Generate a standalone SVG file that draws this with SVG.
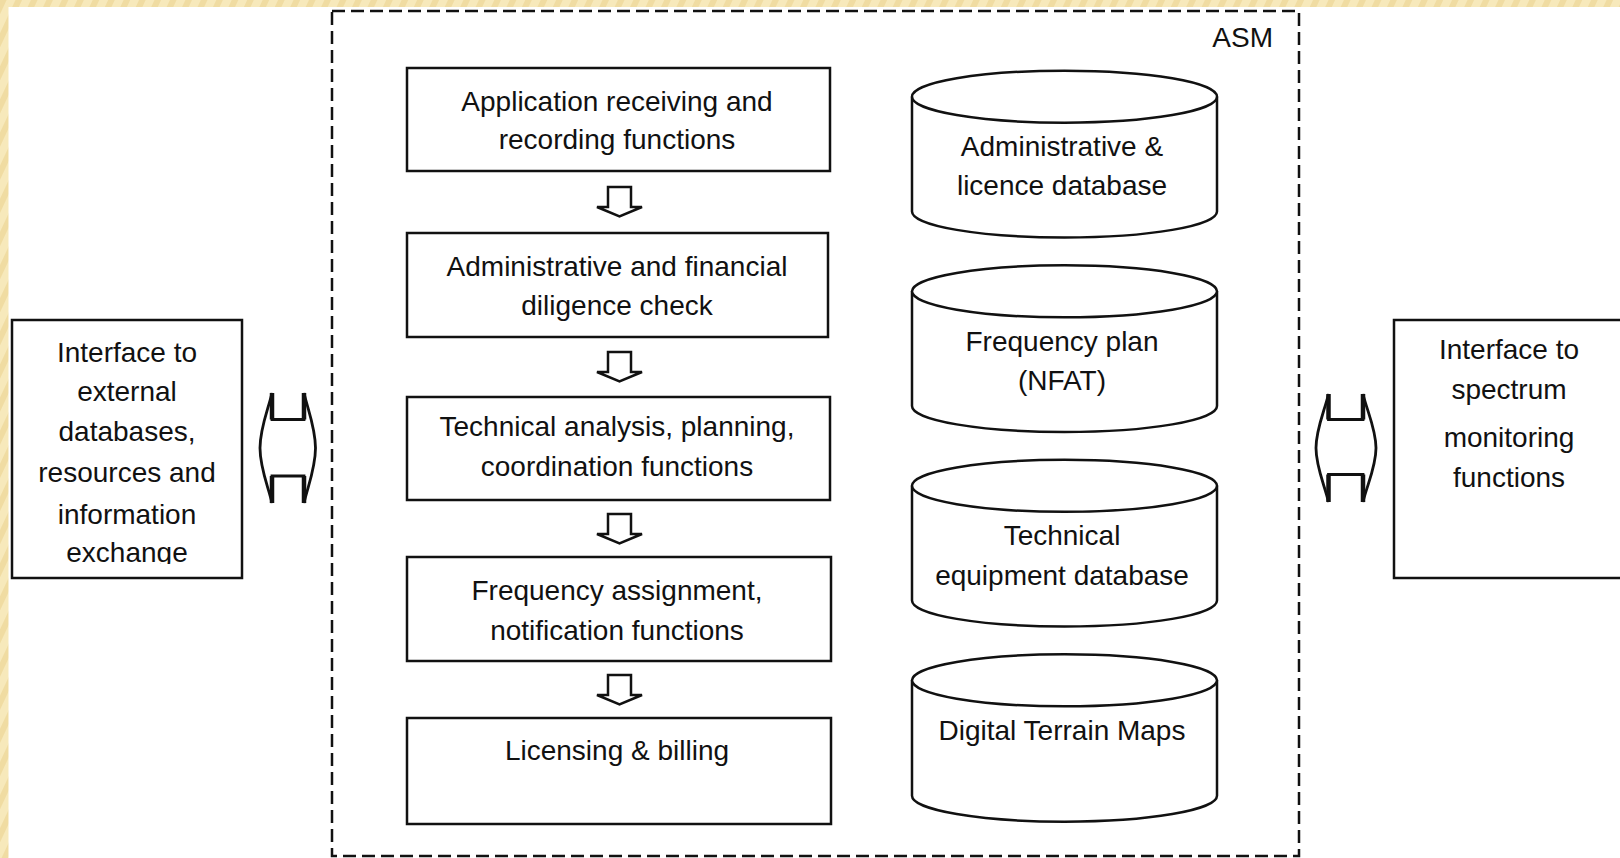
<svg xmlns="http://www.w3.org/2000/svg" width="1620" height="858" viewBox="0 0 1620 858">
<style>
.box{fill:#fff;stroke:#111;stroke-width:2.5}
.cyl{fill:#fff;stroke:#111;stroke-width:2.5}
.t{font-family:"Liberation Sans",Arial,sans-serif;font-size:28px;fill:#111;text-anchor:middle}
.dbl{fill:#fff;stroke:#111;stroke-width:2.8;stroke-linejoin:miter}
.bar{stroke:#111;stroke-width:4.5}
.dn{fill:#fff;stroke:#111;stroke-width:2.5;stroke-linejoin:miter}
</style>
<defs>
<pattern id="stripes" width="14" height="14" patternUnits="userSpaceOnUse" patternTransform="rotate(25)">
<rect width="14" height="14" fill="#f7e9bb"/>
<rect width="6" height="14" fill="#f0dca2"/>
</pattern>
<clipPath id="clipL"><rect x="12" y="320" width="230" height="244"/></clipPath>
</defs>
<rect width="1620" height="858" fill="url(#stripes)"/>
<rect x="8.5" y="7" width="1612" height="851" fill="#fff"/>

<g id="asm">
<rect x="332" y="11" width="967" height="845" fill="none" stroke="#111" stroke-width="2.5" stroke-dasharray="13 6"/>
<text class="t" x="1273" y="46.5" style="text-anchor:end">ASM</text>
</g>

<g id="ext-interface">
<rect class="box" x="12" y="320" width="230" height="258"/>
<g clip-path="url(#clipL)">
<text class="t" x="127" y="362">Interface to</text>
<text class="t" x="127" y="400.5">external</text>
<text class="t" x="127" y="440.5">databases,</text>
<text class="t" x="127" y="482">resources and</text>
<text class="t" x="127" y="524">information</text>
<text class="t" x="127" y="562">exchange</text>
</g>
</g>

<g id="mon-interface">
<rect class="box" x="1394" y="320" width="240" height="258"/>
<text class="t" x="1509" y="359">Interface to</text>
<text class="t" x="1509" y="399">spectrum</text>
<text class="t" x="1509" y="447">monitoring</text>
<text class="t" x="1509" y="487">functions</text>
</g>

<g id="p1">
<rect class="box" x="407" y="68" width="423" height="103"/>
<text class="t" x="617" y="110.5">Application receiving and</text>
<text class="t" x="617" y="149">recording functions</text>
</g>
<g id="p2">
<rect class="box" x="407" y="233" width="421" height="104"/>
<text class="t" x="617" y="275.5">Administrative and financial</text>
<text class="t" x="617" y="315">diligence check</text>
</g>
<g id="p3">
<rect class="box" x="407" y="397" width="423" height="103"/>
<text class="t" x="617" y="435.5">Technical analysis, planning,</text>
<text class="t" x="617" y="475.5">coordination functions</text>
</g>
<g id="p4">
<rect class="box" x="407" y="557" width="424" height="104"/>
<text class="t" x="617" y="600">Frequency assignment,</text>
<text class="t" x="617" y="639.5">notification functions</text>
</g>
<g id="p5">
<rect class="box" x="407" y="718" width="424" height="106"/>
<text class="t" x="617" y="759.5">Licensing &amp; billing</text>
</g>

<g id="db1">
<path class="cyl" d="M912,96.7 L912,211.5 A152.5,26 0 0 0 1217,211.5 L1217,96.7"/>
<ellipse class="cyl" cx="1064.5" cy="96.7" rx="152.5" ry="26"/>
<text class="t" x="1062" y="156">Administrative &amp;</text>
<text class="t" x="1062" y="195">licence database</text>
</g>
<g id="db2">
<path class="cyl" d="M912,291.3 L912,406 A152.5,26 0 0 0 1217,406 L1217,291.3"/>
<ellipse class="cyl" cx="1064.5" cy="291.3" rx="152.5" ry="26"/>
<text class="t" x="1062" y="350.5">Frequency plan</text>
<text class="t" x="1062" y="390">(NFAT)</text>
</g>
<g id="db3">
<path class="cyl" d="M912,485.8 L912,600.5 A152.5,26 0 0 0 1217,600.5 L1217,485.8"/>
<ellipse class="cyl" cx="1064.5" cy="485.8" rx="152.5" ry="26"/>
<text class="t" x="1062" y="544.5">Technical</text>
<text class="t" x="1062" y="585">equipment database</text>
</g>
<g id="db4">
<path class="cyl" d="M912,680.3 L912,795.7 A152.5,26 0 0 0 1217,795.7 L1217,680.3"/>
<ellipse class="cyl" cx="1064.5" cy="680.3" rx="152.5" ry="26"/>
<text class="t" x="1062" y="739.5">Digital Terrain Maps</text>
</g>

<g id="connectors">
<polygon class="dn" points="608,187 631,187 631,207 642,207 619.5,216.5 597,207 608,207"/>
<polygon class="dn" points="608,352 631,352 631,372 642,372 619.5,381.5 597,372 608,372"/>
<polygon class="dn" points="608,514 631,514 631,534 642,534 619.5,543.5 597,534 608,534"/>
<polygon class="dn" points="608,675 631,675 631,695 642,695 619.5,704.5 597,695 608,695"/>
<path class="dbl" d="M272,393 C268,410 260,428 260,448 C260,468 268,486 272,503 L272,476 L304,476 L304,503 C308,486 315.5,468 315.5,448 C315.5,428 308,410 304,393 L304,419.5 L272,419.5 Z"/>
<line class="bar" x1="272" y1="393" x2="272" y2="419.5"/>
<line class="bar" x1="272" y1="476" x2="272" y2="503"/>
<line class="bar" x1="304" y1="393" x2="304" y2="419.5"/>
<line class="bar" x1="304" y1="476" x2="304" y2="503"/>
<path class="dbl" d="M1328.5,394 C1324.5,411 1316,429 1316,448 C1316,467 1324.5,485 1328.5,502 L1328.5,474.5 L1363,474.5 L1363,502 C1367,485 1376,467 1376,448 C1376,429 1367,411 1363,394 L1363,419.5 L1328.5,419.5 Z"/>
<line class="bar" x1="1328.5" y1="394" x2="1328.5" y2="419.5"/>
<line class="bar" x1="1328.5" y1="474.5" x2="1328.5" y2="502"/>
<line class="bar" x1="1363" y1="394" x2="1363" y2="419.5"/>
<line class="bar" x1="1363" y1="474.5" x2="1363" y2="502"/>
</g>
</svg>
